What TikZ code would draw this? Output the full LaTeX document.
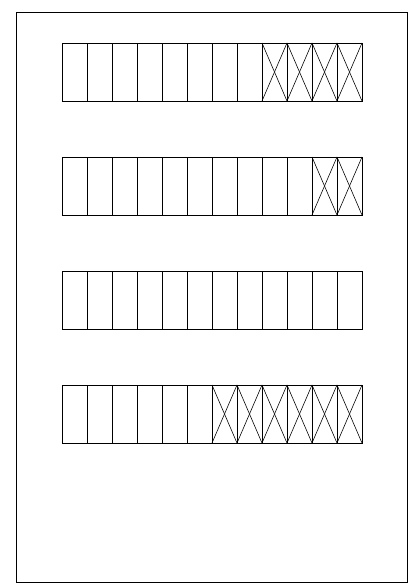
\documentclass[tikz,border=0pt]{standalone}
\usetikzlibrary{positioning}
\tikzset{
  cellbox/.style={draw, line width=0.6pt, minimum width=0.75cm, minimum height=1.74cm,
    inner sep=0pt, outer sep=0pt},
  crossline/.style={line width=0.5pt},
  framebox/.style={draw, line width=0.7pt}
}
\begin{document}
\begin{tikzpicture}
    \useasboundingbox (0,0) rectangle (12.42,-17.55);
    % outer frame
    \draw[framebox] (0.48,-0.36) rectangle (12.21,-17.46);
    % rows of cells, number of crossed cells at the right end
    \foreach \row/\crossed in {1/4, 2/2, 3/0, 4/6} {
      \node[cellbox] (r\row-1) at (2.235, {-2.16-3.42*(\row-1)}) {};
      \foreach \i in {2,...,12} {
        \pgfmathtruncatemacro\prev{\i-1}
        \node[cellbox, right=0pt of r\row-\prev] (r\row-\i) {};
      }
      \pgfmathtruncatemacro\first{13-\crossed}
      \foreach \i in {1,...,12} {
        \ifnum\i<\first\relax\else
          \draw[crossline] (r\row-\i.north west) -- (r\row-\i.south east);
          \draw[crossline] (r\row-\i.north east) -- (r\row-\i.south west);
        \fi
      }
    }
  \end{tikzpicture}
\end{document}
